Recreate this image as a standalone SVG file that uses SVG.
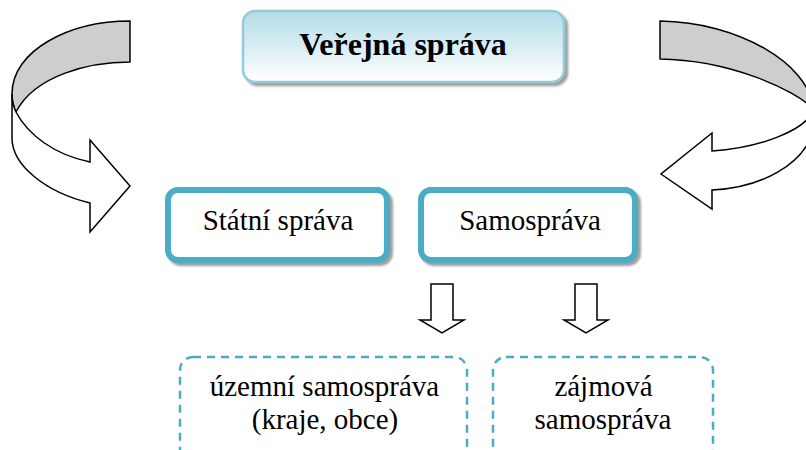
<svg xmlns="http://www.w3.org/2000/svg" width="806" height="450" viewBox="0 0 806 450">
  <defs>
    <linearGradient id="topGrad" x1="0" y1="0" x2="0" y2="1">
      <stop offset="0" stop-color="#b4dce7"/>
      <stop offset="1" stop-color="#ffffff"/>
    </linearGradient>
    <filter id="shadow" x="-10%" y="-20%" width="130%" height="150%">
      <feDropShadow dx="3" dy="3" stdDeviation="1" flood-color="#7f7f7f" flood-opacity="0.75"/>
    </filter>
  </defs>
  <style>
    .txt { fill: #000000; text-anchor: middle; }
    .big { font-size: 32px; font-weight: bold; }
    .mid { font-size: 29px; }
    .solid { fill: #ffffff; stroke: #4bacc6; stroke-width: 6; }
    .dash { fill: none; stroke: #4bacc6; stroke-width: 2.5; stroke-dasharray: 8 6; }
    .arrow { stroke: #000000; stroke-width: 1.5; stroke-linejoin: miter; }
    .back { fill: #cecece; }
    .front { fill: #ffffff; }
  </style>

  <g id="connectors">
    <g id="curve-left">
      <path class="arrow back" d="M130,21 C70,21 12,50 12,94 C12,102 14,108 16,112 C35,75 90,62 130,62 Z"/>
      <path class="arrow front" d="M16,112 C28,135 55,155 90,162 L90,140 L130,186 L90,232 L90,203 C45,192 12,165 12,138 L12,94 C12,102 14,108 16,112 Z"/>
    </g>
    <g id="curve-right">
      <path class="arrow back" d="M660,21 C740,22 808,65 812,105 L812,108 C795,90 730,60 660,59 Z"/>
      <path class="arrow front" d="M812,112 C805,130 760,148 712,151 L712,133 L661,174 L712,209 L712,190 C760,188 805,165 814,128 L812,112 Z"/>
    </g>
    <path id="down-1" class="arrow front" d="M431,284 L453,284 L453,320 L464,320 L442,333 L420,320 L431,320 Z"/>
    <path id="down-2" class="arrow front" d="M575,284 L597,284 L597,320 L608,320 L586,333 L564,320 L575,320 Z"/>
  </g>

  <g font-family="Liberation Serif, DejaVu Serif, serif">
  <g id="verejna-sprava">
    <rect x="243" y="11" width="321" height="71" rx="12" ry="12" fill="url(#topGrad)" stroke="#92cbda" stroke-width="2.5" filter="url(#shadow)"/>
    <text class="txt big" x="403" y="55">Veřejná správa</text>
  </g>

  <g id="statni-sprava">
    <rect class="solid" x="168" y="190" width="219" height="70" rx="10" ry="10" filter="url(#shadow)"/>
    <text class="txt mid" x="278" y="230">Státní správa</text>
  </g>

  <g id="samosprava">
    <rect class="solid" x="421" y="190" width="214" height="70" rx="10" ry="10" filter="url(#shadow)"/>
    <text class="txt mid" x="530" y="230">Samospráva</text>
  </g>

  <g id="uzemni-samosprava">
    <rect class="dash" x="180" y="357" width="287" height="120" rx="13" ry="13"/>
    <text class="txt mid" x="324.5" y="396">územní samospráva</text>
    <text class="txt mid" x="325" y="429">(kraje, obce)</text>
  </g>

  <g id="zajmova-samosprava">
    <rect class="dash" x="493" y="357" width="220" height="120" rx="13" ry="13"/>
    <text class="txt mid" x="603.5" y="396">zájmová</text>
    <text class="txt mid" x="603" y="429">samospráva</text>
  </g>
  </g>
</svg>
